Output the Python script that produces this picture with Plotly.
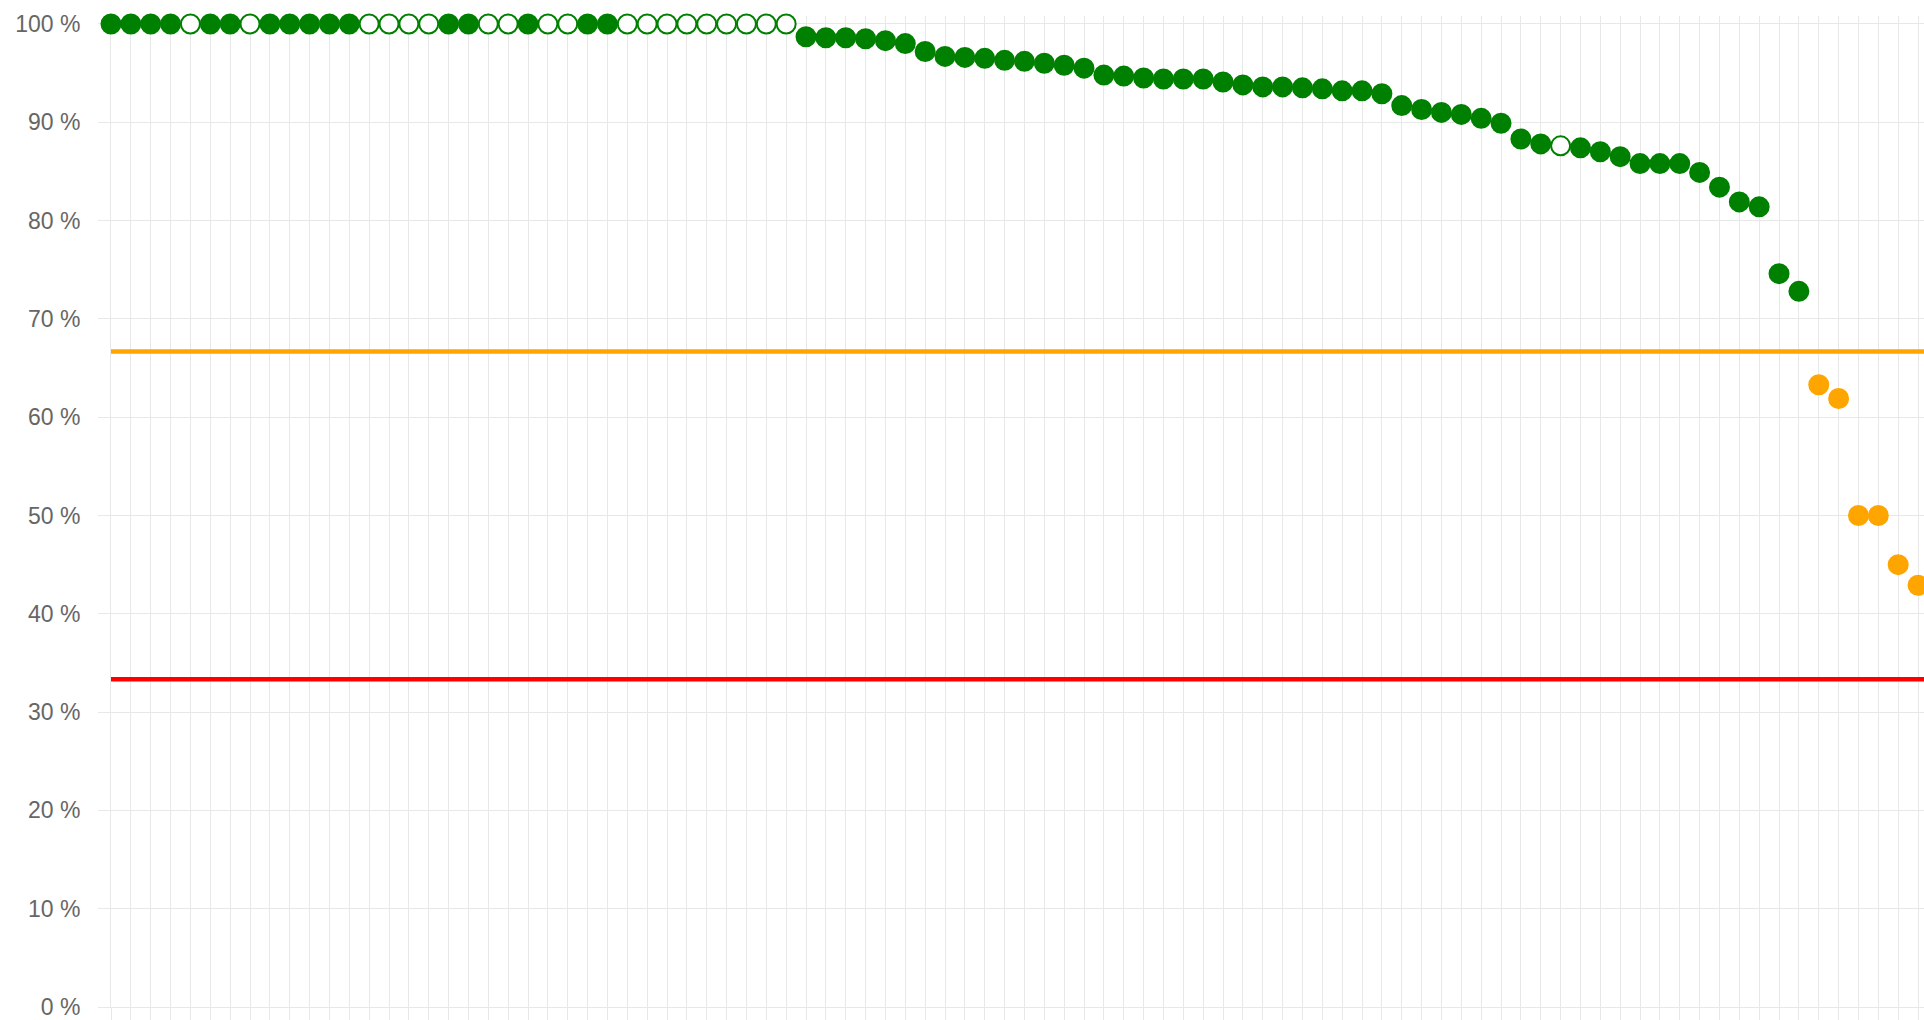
import plotly.graph_objects as go

# ---- data ----
values = [
    100, 100, 100, 100, 100, 100, 100, 100, 100, 100,
    100, 100, 100, 100, 100, 100, 100, 100, 100, 100,
    100, 100, 100, 100, 100, 100, 100, 100, 100, 100,
    100, 100, 100, 100, 100,
    98.7, 98.6, 98.6, 98.5, 98.3, 98.0, 97.2, 96.7, 96.6, 96.5,
    96.3, 96.2, 96.0, 95.8, 95.5, 94.8, 94.7, 94.5, 94.4, 94.4,
    94.4, 94.1, 93.8, 93.6, 93.6, 93.5, 93.4, 93.2, 93.2, 92.9,
    91.7, 91.3, 91.0, 90.8, 90.4, 89.9, 88.3, 87.8, 87.6, 87.4,
    87.0, 86.5, 85.8, 85.8, 85.8, 84.9, 83.4, 81.9, 81.4, 74.6,
    72.8, 63.3, 61.9, 50.0, 50.0, 45.0, 42.9,
]
hollow = [
    0, 0, 0, 0, 1, 0, 0, 1, 0, 0,
    0, 0, 0, 1, 1, 1, 1, 0, 0, 1,
    1, 0, 1, 1, 0, 0, 1, 1, 1, 1,
    1, 1, 1, 1, 1,
    0, 0, 0, 0, 0, 0, 0, 0, 0, 0,
    0, 0, 0, 0, 0, 0, 0, 0, 0, 0,
    0, 0, 0, 0, 0, 0, 0, 0, 0, 0,
    0, 0, 0, 0, 0, 0, 0, 0, 1, 0,
    0, 0, 0, 0, 0, 0, 0, 0, 0, 0,
    0, 0, 0, 0, 0, 0, 0,
]
positions = list(range(len(values)))
upper_threshold = 66.67
lower_threshold = 33.33
y_ticks = [0, 10, 20, 30, 40, 50, 60, 70, 80, 90, 100]
y_tick_labels = ["0 %", "10 %", "20 %", "30 %", "40 %", "50 %",
                 "60 %", "70 %", "80 %", "90 %", "100 %"]

GREEN = "#008000"
ORANGE = "#FFA500"
RED = "#FF0000"
GRID = "#e8e8e8"


def color_for(v):
    if v >= upper_threshold:
        return GREEN
    if v >= lower_threshold:
        return ORANGE
    return RED


fill_colors = ["white" if h else color_for(v) for v, h in zip(values, hollow)]
line_colors = [color_for(v) for v in values]

fig = go.Figure()
fig.add_trace(go.Scatter(
    x=positions, y=values, mode="markers",
    marker=dict(size=19, color=fill_colors,
                line=dict(color=line_colors, width=2)),
    cliponaxis=False, showlegend=False, hoverinfo="y",
))

fig.add_shape(type="line", xref="paper", x0=0, x1=1, yref="y",
              y0=upper_threshold, y1=upper_threshold,
              line=dict(color=ORANGE, width=4.5))
fig.add_shape(type="line", xref="paper", x0=0, x1=1, yref="y",
              y0=lower_threshold, y1=lower_threshold,
              line=dict(color=RED, width=4.5))

fig.update_layout(
    width=1924, height=1020,
    margin=dict(l=111, r=0, t=16, b=10),
    plot_bgcolor="white", paper_bgcolor="white",
    font=dict(family="Liberation Sans, Arial, sans-serif", color="#666666"),
)
fig.update_xaxes(
    range=[0, 91.3], tickmode="array", tickvals=positions,
    showticklabels=False, showgrid=True, gridcolor=GRID, gridwidth=1,
    ticks="outside", ticklen=12, tickcolor=GRID,
    showline=True, linecolor=GRID, zeroline=False, layer="below traces",
)
fig.update_yaxes(
    range=[0, 100.81], tickmode="array", tickvals=y_ticks,
    ticktext=y_tick_labels, tickfont=dict(size=23, color="#666666"),
    ticklabeloverflow="allow",
    showgrid=True, gridcolor=GRID, gridwidth=1,
    ticks="outside", ticklen=12, tickcolor=GRID,
    ticklabelstandoff=13,
    showline=True, linecolor=GRID, zeroline=False, layer="below traces",
)

fig.write_html("out.html", config={"displayModeBar": False},
               post_script="document.body.style.margin='0';document.body.style.overflow='hidden';")
